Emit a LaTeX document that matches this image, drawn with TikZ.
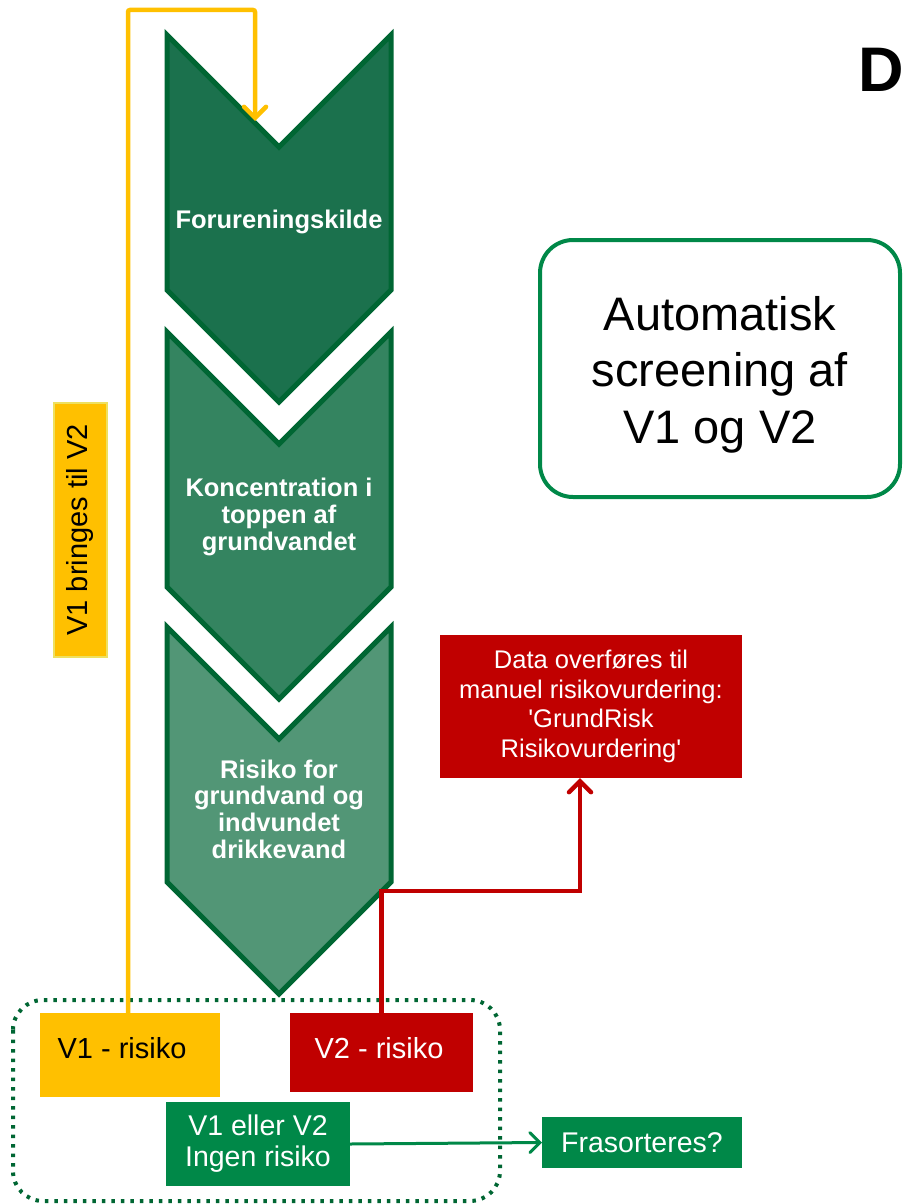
\documentclass[tikz,border=0pt]{standalone}
\usepackage{fontspec}
\setmainfont{Liberation Sans}
\usetikzlibrary{arrows.meta}
\definecolor{cA}{HTML}{1B714D}
\definecolor{cB}{HTML}{348460}
\definecolor{cC}{HTML}{529676}
\definecolor{dkgreen}{HTML}{006633}
\definecolor{bgreen}{HTML}{008848}
\definecolor{rred}{HTML}{C00000}
\definecolor{yel}{HTML}{FFC000}
\definecolor{yelborder}{HTML}{EEE060}
\begin{document}
\begin{tikzpicture}[x=1pt,y=-1pt,
  chev/.style={draw=dkgreen, line width=5pt, line join=miter},
  chevtext/.style={text=white, align=center, inner sep=0pt, font=\fontsize{25.5}{26.7}\selectfont\bfseries},
  boxnode/.style={inner sep=0pt, outer sep=0pt},
  ylink/.style={draw=yel, line width=4.5pt, rounded corners=2pt, -{Straight Barb[length=11pt,width=22pt,line cap=round]}},
  rlink/.style={draw=rred, line width=4.5pt, -{Straight Barb[length=11pt,width=22pt,line cap=round]}},
  glink/.style={draw=bgreen, line width=3pt, -{Straight Barb[length=10pt,width=20pt,line cap=round]}},
]
\useasboundingbox (0,0) rectangle (902,1204);
\clip (0,0) rectangle (902,1204);

% chevrons
\filldraw[chev, fill=cA] (167,35) -- (279,147) -- (391,35) -- (391,290) -- (279,402) -- (167,290) -- cycle;
\filldraw[chev, fill=cB] (167,332) -- (279,444) -- (391,332) -- (391,587) -- (279,699) -- (167,587) -- cycle;
\filldraw[chev, fill=cC] (167,627) -- (279,739) -- (391,627) -- (391,882) -- (279,994) -- (167,882) -- cycle;
\coordinate (notch1) at (255,121);

\node[chevtext] (src) at (279,221.5) {Forureningskilde};
\node[chevtext] (konc) at (279,517) {Koncentration i\\toppen af\\grundvandet};
\node[chevtext] (risk) at (279,809) {Risiko for\\grundvand og\\indvundet\\drikkevand};

% title letter
\node[anchor=base west, inner sep=0pt, font=\fontsize{63}{63}\selectfont\bfseries] (dletter) at (858,92) {D};

% automatic screening box
\node[boxnode, draw=bgreen, line width=4pt, rounded corners=33pt, minimum width=360pt, minimum height=257pt] (auto) at (720,368.5) {};
\node[align=center, inner sep=0pt, font=\fontsize{47}{56.5}\selectfont] (autotext) at (720,374.5) {Automatisk\\screening af\\V1 og V2};

% yellow vertical label
\node[boxnode, fill=yel, draw=yelborder, line width=1.5pt, rotate=90, minimum width=254pt, minimum height=53pt, font=\fontsize{29}{30}\selectfont] (ylabel) at (80.5,530) {V1 bringes til V2};

% red data box
\node[boxnode, fill=rred, text=white, minimum width=302pt, minimum height=143pt, align=center, font=\fontsize{25.5}{29.5}\selectfont] (data) at (591,706.5) {Data overføres til\\manuel risikovurdering:\\\textquotesingle GrundRisk\\Risikovurdering\textquotesingle};

% bottom boxes
\node[boxnode, fill=yel, minimum width=180pt, minimum height=84pt] (v1) at (130,1055) {};
\node[anchor=base, inner sep=0pt, font=\fontsize{29}{30}\selectfont] (v1text) at (122,1058) {V1 - risiko};
\node[boxnode, fill=rred, minimum width=183pt, minimum height=79pt] (v2) at (381.5,1052.5) {};
\node[anchor=base, inner sep=0pt, text=white, font=\fontsize{29}{30}\selectfont] (v2text) at (379,1058) {V2 - risiko};
\node[boxnode, fill=bgreen, text=white, minimum width=184pt, minimum height=84pt, align=center, font=\fontsize{28.5}{31}\selectfont] (ingen) at (258,1144) {V1 eller V2\\Ingen risiko};
\node[boxnode, fill=bgreen, text=white, minimum width=200pt, minimum height=51pt, font=\fontsize{28.5}{30}\selectfont] (fras) at (642,1142.5) {Frasorteres?};

% dotted group
\draw[dkgreen, line width=4pt, dash pattern=on 3.5pt off 6pt, rounded corners=30pt] (13,1000) rectangle (500,1201);

% connectors
\coordinate (ylevel) at (0,10);
\coordinate (rlevel) at (0,891);
\draw[ylink] ([xshift=-2pt]v1.north) -- ([xshift=-2pt]v1.north |- ylevel) -| (notch1);
\draw[rlink] (v2.north) -- (v2.north |- rlevel) -| ([xshift=-11pt]data.south);
\draw[glink] (ingen.east) -- (fras.west);
\end{tikzpicture}
\end{document}
